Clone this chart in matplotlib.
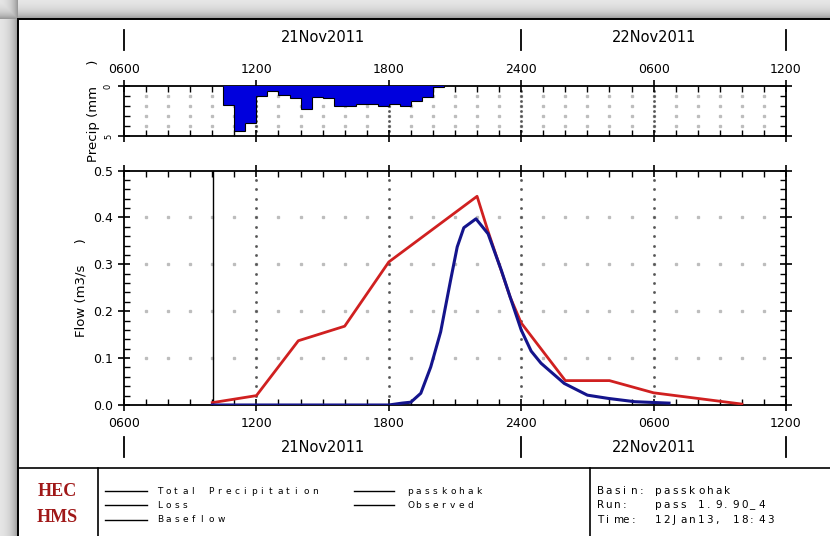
import matplotlib
matplotlib.use("Agg")
import matplotlib.pyplot as plt
import numpy as np
from matplotlib import transforms
from matplotlib.lines import Line2D
from matplotlib.patches import Rectangle

W, H = 830, 536

# time axis: hours after 0600 21Nov2011
hour_ticks = [0, 6, 12, 18, 24, 30]
hour_labels = ["0600", "1200", "1800", "2400", "0600", "1200"]
date_labels = ["21Nov2011", "22Nov2011"]
date_centres = [9, 24]
date_marks = [0, 18, 30]

# 30-minute precipitation (mm), bin start in hours
precip_start = [4.5, 5.0, 5.5, 6.0, 6.5, 7.0, 7.5, 8.0, 8.5, 9.0,
                9.5, 10.0, 10.5, 11.0, 11.5, 12.0, 12.5, 13.0, 13.5, 14.0]
precip_mm = [1.9, 4.5, 3.7, 1.0, 0.5, 0.9, 1.2, 2.3, 1.1, 1.2,
             2.0, 2.0, 1.75, 1.75, 2.0, 1.75, 2.0, 1.5, 1.1, 0.08]

# observed flow (m3/s) - red
obs_t = [4, 6, 7.9, 10, 12, 14, 16, 16.5, 17, 17.5, 18, 20, 22, 24, 26, 28]
obs_q = [0.005, 0.02, 0.137, 0.168, 0.305, 0.375, 0.445, 0.37, 0.30, 0.23,
         0.175, 0.052, 0.052, 0.026, 0.014, 0.002]

# computed outflow passkohak (m3/s) - blue
sim_t = [4, 12.0, 12.6, 13.0, 13.45, 13.9, 14.35, 14.8, 15.1, 15.4, 15.95,
         16.5, 17.1, 17.5, 18.0, 18.45, 18.9, 19.95, 21.0, 21.95, 23.15, 24.7]
sim_q = [0, 0, 0.004, 0.006, 0.025, 0.081, 0.156, 0.266, 0.337, 0.378, 0.397,
         0.365, 0.287, 0.23, 0.16, 0.115, 0.089, 0.046, 0.021, 0.014, 0.007, 0.004]

plt.rcParams['font.family'] = ['DejaVu Sans']

fig = plt.figure(figsize=(W / 100, H / 100), dpi=100)


def px(x0, y0, x1, y1):
    # figure pixel box -> axes rect
    return [x0 / W, 1 - y1 / H, (x1 - x0) / W, (y1 - y0) / H]


# grey shadow background and white panel
bg = fig.add_axes([0, 0, 1, 1])
yy, xx = np.mgrid[0:H, 0:W]
d = np.minimum(np.where(xx < 18, 18 - xx, 99), np.where(yy < 19, 19 - yy, 99))
shade = 0.93 - 0.38 * np.exp(-np.clip(d, 0, None) / 7.0)
bg.imshow(shade, cmap='gray', vmin=0, vmax=1, extent=[0, W, H, 0], aspect='auto')
bg.add_patch(Rectangle((18, 19), W, H, facecolor='white', edgecolor='black', lw=1.4))
bg.plot([18, W], [468, 468], color='black', lw=1.2)
bg.plot([98, 98], [468, H], color='black', lw=1.2)
bg.plot([590, 590], [468, H], color='black', lw=1.2)
bg.set_xlim(0, W)
bg.set_ylim(H, 0)
bg.axis('off')

# precipitation panel
axp = fig.add_axes(px(124, 86, 786, 136))
axp.stairs(precip_mm, precip_start + [precip_start[-1] + 0.5], fill=True,
           color='#0000dd', zorder=3)
axp.stairs(precip_mm, precip_start + [precip_start[-1] + 0.5], color='black',
           lw=0.8, zorder=4)
axp.set_ylim(5, 0)
axp.set_yticks([0, 5])
axp.set_yticklabels(["0", "5"], fontsize=6, rotation=90, va='center')
axp.set_yticks(np.arange(0, 6, 1), minor=True)
axp.set_ylabel("Precip (mm     )", fontsize=9.5, labelpad=3)

# flow panel
axf = fig.add_axes(px(124, 170.5, 786, 405))
axf.plot(sim_t, sim_q, color='#14148c', lw=2.2, zorder=4)
axf.plot(obs_t, obs_q, color='#d02020', lw=2.0, zorder=3)
axf.axvline(4.05, color='black', lw=1.0, zorder=2)
axf.set_ylim(0, 0.5)
axf.set_yticks(np.arange(0, 0.51, 0.1))
axf.set_yticklabels(["%.1f" % v for v in np.arange(0, 0.51, 0.1)], fontsize=9)
axf.set_yticks(np.arange(0, 0.51, 0.02), minor=True)
axf.set_ylabel("Flow (m3/s     )", fontsize=9.5, labelpad=4)

hours_minor = np.arange(0, 31, 1)
for ax, ylev, ymin, ymax, ystep in [(axp, [1, 2, 3, 4], 0, 5, 0.5),
                                     (axf, [0.1, 0.2, 0.3, 0.4], 0, 0.5, 0.02)]:
    ax.set_xlim(0, 30)
    ax.set_xticks(hour_ticks)
    ax.set_xticks(hours_minor, minor=True)
    for y in ylev:
        ax.plot(hours_minor[1:-1], [y] * (len(hours_minor) - 2), ls='none',
                marker='s', ms=1.4, color='#bdbdbd', zorder=1)
    vy = np.arange(ymin + ystep, ymax, ystep)
    for x in hour_ticks[1:-1]:
        ax.plot([x] * len(vy), vy, ls='none', marker='s', ms=0.9,
                color='#555555', zorder=1)
    for s in ax.spines.values():
        s.set_linewidth(1.3)
    ax.tick_params(which='major', direction='inout', length=9, width=1.2,
                   top=True, right=True)
    ax.tick_params(which='minor', direction='in', length=4, width=1.0,
                   top=True, right=True)

axp.tick_params(axis='x', labelbottom=False, labeltop=True, labelsize=9, pad=3)
axp.set_xticklabels(hour_labels)
axf.tick_params(axis='x', labelsize=9, pad=4)
axf.set_xticklabels(hour_labels)

# date bands above and below
for ax, ydate, ym0, ym1 in [(axp, 38, 30, 50), (axf, 447, 437, 457)]:
    tr = transforms.blended_transform_factory(ax.transData, fig.transFigure)
    for xc, lab in zip(date_centres, date_labels):
        fig.text(xc, 1 - ydate / H, lab, transform=tr, ha='center',
                 va='center', fontsize=10.5)
    for xm in date_marks:
        fig.add_artist(Line2D([xm, xm], [1 - ym0 / H, 1 - ym1 / H],
                              transform=tr, color='black', lw=1.3))


def spaced(x, y, s, step, size, **kw):
    for i, ch in enumerate(s):
        fig.text((x + i * step) / W, 1 - y / H, ch, fontsize=size,
                 va='center', ha='left', **kw)


# HEC-HMS logo
fig.text(57 / W, 1 - 491 / H, "HEC", family='Liberation Serif', weight='bold',
         fontsize=13, color='#a01818', ha='center', va='center')
fig.text(57 / W, 1 - 517 / H, "HMS", family='Liberation Serif', weight='bold',
         fontsize=13, color='#a01818', ha='center', va='center')

# legend
legend_left = ["Total Precipitation", "Loss", "Baseflow"]
legend_right = ["passkohak", "Observed"]
rows = [491, 505, 520]
for name, y in zip(legend_left, rows):
    fig.add_artist(Line2D([105 / W, 147 / W], [1 - y / H] * 2, color='black', lw=1))
    spaced(157, y, name, 8.6, 6.5)
for name, y in zip(legend_right, rows):
    fig.add_artist(Line2D([354 / W, 394 / W], [1 - y / H] * 2, color='black', lw=1))
    spaced(407, y, name, 8.6, 6.5)

info_keys = ["Basin:", "Run:", "Time:"]
info_vals = ["passkohak", "pass 1.9.90_4", "12Jan13, 18:43"]
for k, v, y in zip(info_keys, info_vals, rows):
    spaced(597, y, k, 8.6, 7.5)
    spaced(655, y, v, 8.6, 7.5)

fig.savefig("out.png", dpi=100)
